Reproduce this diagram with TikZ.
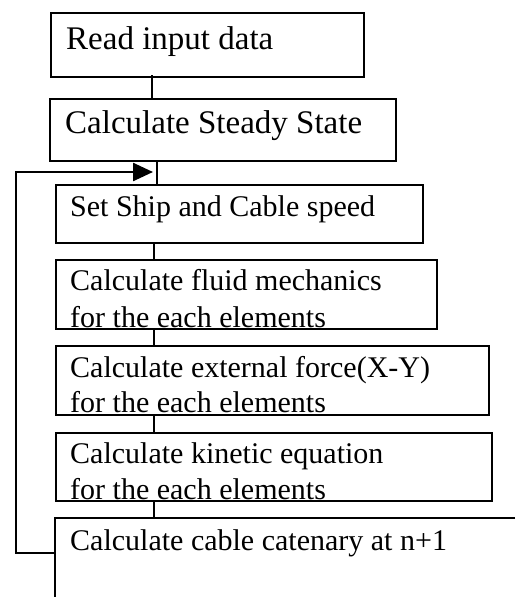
\documentclass[tikz,border=0pt]{standalone}
\usepackage{fontspec}
\setmainfont{Liberation Serif}
\usetikzlibrary{arrows.meta}
\begin{document}
\begin{tikzpicture}[x=1pt,y=-1pt,
  box/.style={draw,line width=2pt,inner sep=0pt,anchor=north west},
  big/.style={inner sep=0pt,anchor=base west,font=\fontsize{33}{37}\selectfont},
  small/.style={inner sep=0pt,anchor=base west,font=\fontsize{30}{37}\selectfont},
  conn/.style={line width=2pt},
  loopline/.style={line width=2.5pt}]
\useasboundingbox (0,0) rectangle (515,597);
% boxes
\node[box,minimum width=313pt,minimum height=64pt] (b1) at (50,12) {};
\node[box,minimum width=346pt,minimum height=62pt] (b2) at (49,98) {};
\node[box,minimum width=367pt,minimum height=58pt] (b3) at (55,184) {};
\node[box,minimum width=381pt,minimum height=69pt] (b4) at (55,259) {};
\node[box,minimum width=433pt,minimum height=69pt] (b5) at (55,345) {};
\node[box,minimum width=436pt,minimum height=68pt] (b6) at (55,432) {};
% open last box
\coordinate (b7tl) at (55,518);
\coordinate (b7tr) at (515,518);
\coordinate (b7bl) at (55,597);
\draw[conn] (b7tr) -- (b7tl) -- (b7bl);
% texts
\node[big] (t1) at (66,49) {Read input data};
\node[big] (t2) at (65,133) {Calculate Steady State};
\node[small] (t3) at (70,216) {Set Ship and Cable speed};
\node[small] (t4a) at (70,290) {Calculate fluid mechanics};
\node[small] (t4b) at (70,327) {for the each elements};
\node[small] (t5a) at (70,377) {Calculate external force(X-Y)};
\node[small] (t5b) at (70,412) {for the each elements};
\node[small] (t6a) at (70,463) {Calculate kinetic equation};
\node[small] (t6b) at (70,499) {for the each elements};
\node[small] (t7) at (70,550) {Calculate cable catenary at n+1};
% connectors
\draw[conn] (b1.south -| 152,0) ++(0,-3) -- (b2.north -| 152,0);
\draw[conn] (b2.south -| 157,0) -- (b3.north -| 157,0);
\draw[conn] (b3.south -| 154,0) -- (b4.north -| 154,0);
\draw[conn] (b4.south -| 154,0) -- (b5.north -| 154,0);
\draw[conn] (b5.south -| 154,0) -- (b6.north -| 154,0);
\draw[conn] (b6.south -| 154,0) -- (b7tl -| 154,0);
% feedback loop
\coordinate (lp1) at (16,553);
\coordinate (lp2) at (16,172);
\coordinate (tip) at (153,172);
\draw[loopline,-{Triangle[length=20pt,width=18pt]}] (b7tl |- lp1) -- (lp1) -- (lp2) -- (tip);
\end{tikzpicture}
\end{document}
